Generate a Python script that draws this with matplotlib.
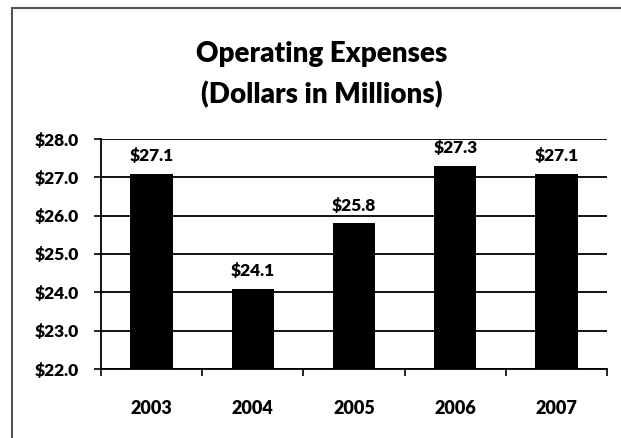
import matplotlib.pyplot as plt
from matplotlib.patches import Rectangle

years = ["2003", "2004", "2005", "2006", "2007"]
expenses = [27.1, 24.1, 25.8, 27.3, 27.1]
y_ticks = [22.0, 23.0, 24.0, 25.0, 26.0, 27.0, 28.0]

plt.rcParams['font.family'] = ['Lato', 'DejaVu Sans']
W = 'heavy'

fig = plt.figure(figsize=(6.21, 4.38), dpi=100)
ax = fig.add_axes([101 / 621, 1 - 369 / 438, 506 / 621, 230 / 438])

# cadre gris autour du graphique
fig.patches.append(Rectangle((12 / 621, -0.1), 1.2, 1 - 8 / 438 + 0.1,
                             transform=fig.transFigure, fill=False,
                             edgecolor='#555555', linewidth=1.5))

x = list(range(len(years)))
ax.bar(x, expenses, width=0.42, color='black', bottom=0)

for xi, v in zip(x, expenses):
    ax.annotate(f"${v:.1f}", (xi, v), xytext=(0, 7), textcoords='offset points',
                ha='center', va='bottom', fontsize=12.5, fontweight=W)

ax.set_ylim(22, 28)
ax.set_xlim(-0.5, len(years) - 0.5)
ax.set_yticks(y_ticks)
ax.set_yticklabels([f"${t:.1f}" for t in y_ticks], fontsize=12.5, fontweight=W)
ax.set_xticks([i - 0.5 for i in range(len(years) + 1)])
ax.set_xticklabels([])
ax.set_xticks(x, minor=True)
ax.set_xticklabels(years, minor=True, fontsize=13, fontweight=W)
ax.tick_params(axis='x', which='minor', length=0, pad=22)
ax.tick_params(axis='x', which='major', length=5, width=1.2, direction='out')
ax.tick_params(axis='y', length=5, width=1.2, pad=11)

ax.grid(axis='y', color='black', linewidth=1.3)
ax.set_axisbelow(True)
ax.spines['right'].set_visible(False)
ax.spines['top'].set_visible(False)
ax.spines['left'].set_linewidth(1.3)
ax.spines['bottom'].set_linewidth(1.3)

fig.text(322 / 621, 1 - 62 / 438, "Operating Expenses", ha='center', va='baseline',
         fontsize=20, fontweight=W)
fig.text(322 / 621, 1 - 103 / 438, "(Dollars in Millions)", ha='center', va='baseline',
         fontsize=20, fontweight=W)

fig.savefig("out.png", dpi=100, facecolor='white')
